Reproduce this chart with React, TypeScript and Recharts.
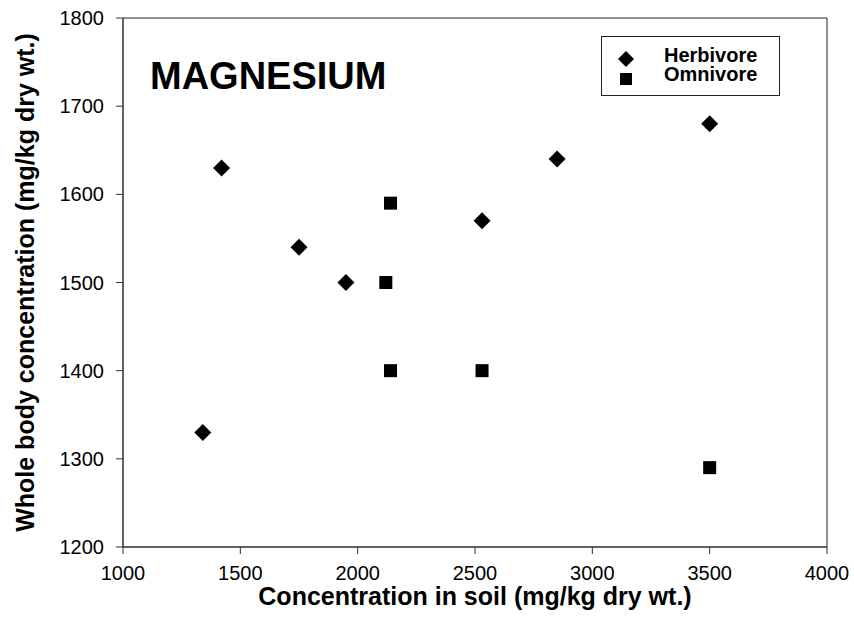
import { ScatterChart, Scatter, XAxis, YAxis, ReferenceArea } from 'recharts';

const xTicks = [1000, 1500, 2000, 2500, 3000, 3500, 4000];
const yTicks = [1200, 1300, 1400, 1500, 1600, 1700, 1800];

const herbivoreSoil = [1340, 1420, 1750, 1950, 2530, 2850, 3500];
const herbivoreBody = [1330, 1630, 1540, 1500, 1570, 1640, 1680];

const omnivoreSoil = [2120, 2140, 2140, 2530, 3500];
const omnivoreBody = [1500, 1590, 1400, 1400, 1290];

const seriesNames = ['Herbivore', 'Omnivore'];

const herbivore = herbivoreSoil.map((x, i) => ({ x, y: herbivoreBody[i] }));
const omnivore = omnivoreSoil.map((x, i) => ({ x, y: omnivoreBody[i] }));

const FONT = '"Liberation Sans", Arial, sans-serif';

const Diamond = (props: any) => {
  const { cx, cy } = props;
  const r = 8.5;
  return (
    <polygon
      points={`${cx},${cy - r} ${cx + r},${cy} ${cx},${cy + r} ${cx - r},${cy}`}
      fill="#000"
    />
  );
};

const Square = (props: any) => {
  const { cx, cy } = props;
  const s = 13;
  return <rect x={cx - s / 2} y={cy - s / 2} width={s} height={s} fill="#000" />;
};

// legend drawn as an overlay so it doesn't shrink the plot area
const LegendBox = () => (
  <div
    style={{
      position: 'absolute',
      left: 601,
      top: 36,
      width: 179,
      height: 60,
      border: '1px solid #222',
      boxSizing: 'border-box',
      background: '#fff',
      fontFamily: FONT,
      fontWeight: 'bold',
      fontSize: 20,
    }}
  >
    <svg width={30} height={50} style={{ position: 'absolute', left: 9, top: 6 }}>
      <polygon points="15,8 23,16 15,24 7,16" fill="#000" />
      <rect x={9} y={30} width={12} height={12} fill="#000" />
    </svg>
    <div style={{ position: 'absolute', left: 62, top: 9, lineHeight: '19px' }}>
      <div>{seriesNames[0]}</div>
      <div>{seriesNames[1]}</div>
    </div>
  </div>
);

export default function App() {
  return (
    <div
      style={{
        position: 'absolute',
        left: 0,
        top: 0,
        width: 854,
        height: 637,
        background: '#fff',
        fontFamily: FONT,
      }}
    >
      <ScatterChart
        width={854}
        height={637}
        margin={{ top: 18, right: 27, bottom: 0, left: 0 }}
      >
        <XAxis
          type="number"
          dataKey="x"
          domain={[1000, 4000]}
          ticks={xTicks}
          interval={0}
          height={90}
          tickSize={7}
          tickMargin={12}
          stroke="#333"
          tick={{ fill: '#000', fontSize: 20, fontFamily: FONT }}
          label={{
            value: 'Concentration in soil (mg/kg dry wt.)',
            position: 'insideBottom',
            offset: 32,
            style: { fill: '#000', fontSize: 25, fontWeight: 'bold', fontFamily: FONT },
          }}
        />
        <YAxis
          type="number"
          dataKey="y"
          domain={[1200, 1800]}
          ticks={yTicks}
          interval={0}
          width={123}
          tickSize={7}
          tickMargin={12}
          stroke="#333"
          tick={{ fill: '#000', fontSize: 20, fontFamily: FONT }}
          label={{
            value: 'Whole body concentration (mg/kg dry wt.)',
            angle: -90,
            position: 'insideLeft',
            offset: 25,
            style: {
              textAnchor: 'middle',
              fill: '#000',
              fontSize: 25,
              fontWeight: 'bold',
              fontFamily: FONT,
            },
          }}
        />
        <ReferenceArea
          x1={1000}
          x2={4000}
          y1={1200}
          y2={1800}
          fill="none"
          stroke="#222"
          strokeWidth={1}
          ifOverflow="visible"
        />
        <Scatter
          name={seriesNames[0]}
          data={herbivore}
          shape={<Diamond />}
          isAnimationActive={false}
        />
        <Scatter
          name={seriesNames[1]}
          data={omnivore}
          shape={<Square />}
          isAnimationActive={false}
        />
      </ScatterChart>
      <LegendBox />
      <div
        style={{
          position: 'absolute',
          left: 150,
          top: 57,
          fontSize: 38,
          lineHeight: '38px',
          fontWeight: 'bold',
          color: '#000',
          fontFamily: FONT,
        }}
      >
        MAGNESIUM
      </div>
    </div>
  );
}
